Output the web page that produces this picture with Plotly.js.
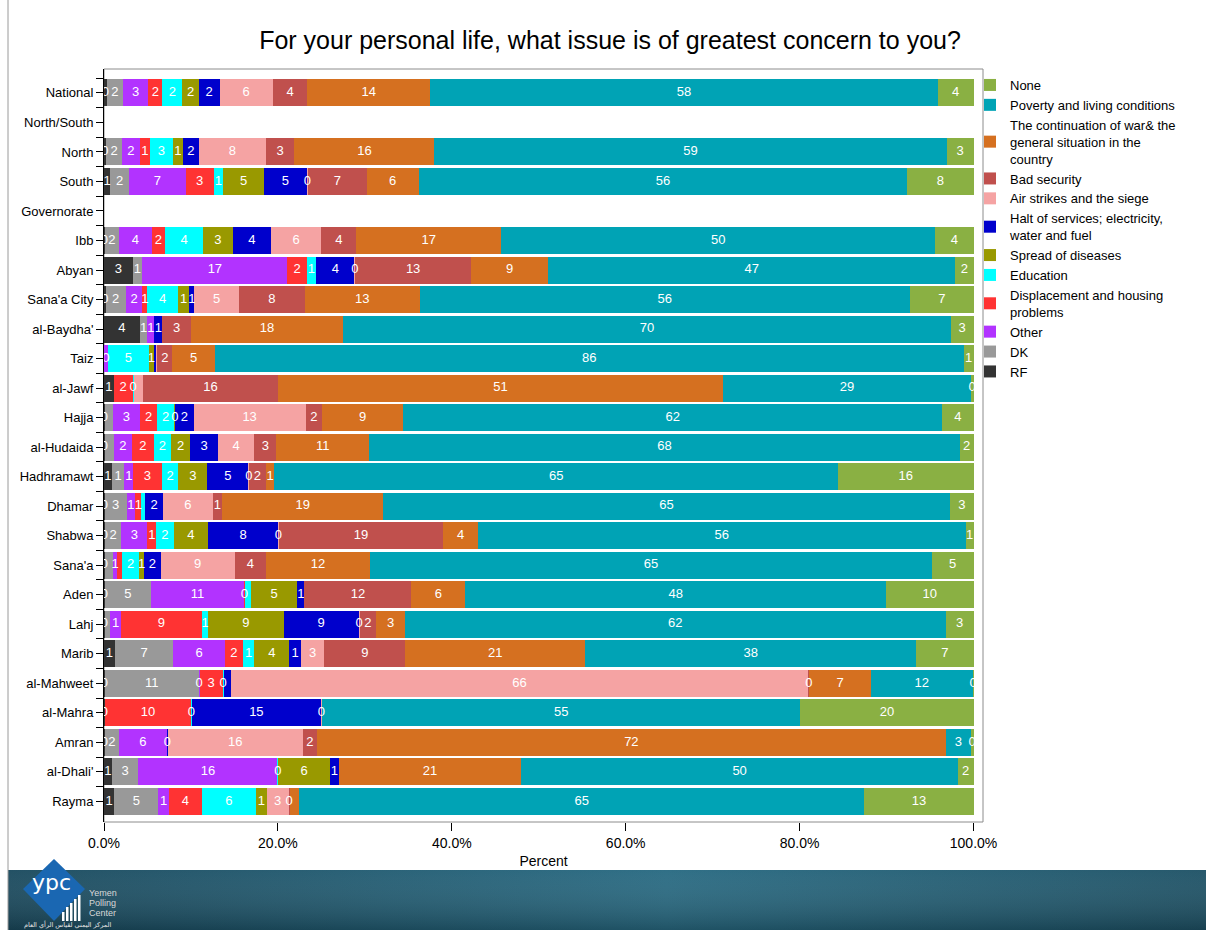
<!DOCTYPE html>
<html>
<head>
<meta charset="utf-8">
<script src="https://cdn.plot.ly/plotly-3.0.1.min.js"></script>
<style>
html,body{margin:0;padding:0;background:#fff;}
#chart{width:1206px;height:930px;}
</style>
</head>
<body>
<div id="chart"></div>
<script>
// ---------------- DATA ----------------
const CATEGORIES = ["National","North/South","North","South","Governorate","Ibb","Abyan","Sana'a City","al-Baydha'","Taiz","al-Jawf","Hajja","al-Hudaida","Hadhramawt","Dhamar","Shabwa","Sana'a","Aden","Lahj","Marib","al-Mahweet","al-Mahra","Amran","al-Dhali'","Rayma"];

const RF           = [0.3, null, 0.2, 0.7, null, 0.1, 3.3, 0.2, 4.1, null, 1.1, 0.1, 0.1, 0.9, 0.1, 0.1, 0.1, 0.1, 0.1, 1.25, 0.1, 0.1, 0.1, 0.9, 1.2];
const DK           = [1.9, null, 1.9, 2.2, null, 1.6, 1.1, 2.3, 0.9, null, null, 0.9, 1.0, 1.45, 2.5, 1.9, 0.9, 5.3, 0.6, 6.7, 10.8, null, 1.6, 3.05, 5.05];
const OTHER        = [2.9, null, 2.0, 6.5, null, 3.8, 16.7, 1.9, 0.8, 0.45, null, 3.15, 2.15, 1.0, 1.0, 3.0, 0.55, 10.7, 1.25, 6.0, 0.1, null, 5.55, 16.0, 1.2];
const DISPLACEMENT = [1.6, null, 1.2, 3.2, null, 1.5, 2.2, 0.6, null, null, 2.2, 1.95, 2.45, 3.3, 0.7, 1.0, 0.5, 0.1, 9.3, 2.0, 2.65, 9.9, null, null, 3.8];
const EDUCATION    = [2.3, null, 2.6, 1.1, null, 4.4, 1.1, 3.5, null, 4.7, 0.1, 2.0, 2.0, 1.9, 0.4, 2.0, 2.0, 0.7, 0.75, 1.35, 0.1, 0.1, null, 0.1, 6.25];
const DISEASES     = [1.9, null, 1.2, 4.7, null, 3.4, null, 1.3, null, 0.6, null, 0.1, 2.2, 3.35, null, 4.0, 0.55, 5.35, 8.65, 4.0, null, null, null, 5.95, 1.2];
const HALT         = [2.4, null, 1.8, 4.9, null, 4.4, 4.4, 0.6, 0.9, 0.2, null, 2.1, 3.2, 4.7, 2.1, 8.0, 1.9, 0.8, 8.65, 1.35, 0.8, 14.85, 0.1, 1.0, null];
const AIRSTRIKES   = [6.1, null, 7.7, 0.2, null, 5.8, 0.1, 5.1, null, 0.2, 1.1, 12.9, 4.2, 0.1, 5.7, 0.1, 8.55, null, 0.1, 2.7, 66.45, 0.1, 15.5, null, 2.55];
const SECURITY     = [4.0, null, 3.3, 6.7, null, 4.0, 13.3, 7.6, 3.3, 1.7, 15.5, 1.9, 2.5, 1.9, 1.1, 18.9, 3.55, 12.3, 1.9, 9.3, 0.1, null, 1.65, null, 0.1];
const WAR          = [14.1, null, 16.1, 6.0, null, 16.7, 8.9, 13.2, 17.5, 4.9, 51.2, 9.3, 10.7, 1.0, 18.5, 4.0, 12.0, 6.2, 3.3, 20.7, 7.1, null, 72.3, 21.0, 1.1];
const POVERTY      = [58.4, null, 58.9, 56.2, null, 49.9, 46.8, 56.4, 69.9, 86.1, 28.5, 62.0, 67.9, 64.8, 65.2, 56.1, 64.6, 48.4, 62.2, 38.05, 11.7, 55.05, 2.9, 50.2, 65.0];
const NONE         = [4.1, null, 3.1, 7.6, null, 4.4, 2.1, 7.3, 2.6, 1.15, 0.3, 3.6, 1.6, 15.6, 2.7, 0.9, 4.8, 10.05, 3.2, 6.6, 0.1, 19.9, 0.3, 1.8, 12.55];

const SERIES_NAMES = ["RF","DK","Other","Displacement and housing<br>problems","Education","Spread of diseases","Halt of services; electricity,<br>water and fuel","Air strikes and the siege","Bad security","The continuation of war&amp; the<br>general situation in the<br>country","Poverty and living conditions","None"];
const SERIES_VALUES = [RF, DK, OTHER, DISPLACEMENT, EDUCATION, DISEASES, HALT, AIRSTRIKES, SECURITY, WAR, POVERTY, NONE];
const SERIES_COLORS = ["#333333","#999999","#B233FF","#FF3333","#00FFFF","#999900","#0000CC","#F5A3A3","#C0504D","#D57020","#00A3B5","#8AB043"];

const X_TICKS = [0, 20, 40, 60, 80, 100];

// ---------------- LAYOUT GEOMETRY ----------------
const FIG_W = 1206, FIG_H = 930;
const M = {l: 104, r: 223, t: 69, b: 108, autoexpand: false};
const PW = FIG_W - M.l - M.r, PH = FIG_H - M.t - M.b;
const X_MAX = 101.09;
const PX_PER_PCT = PW / X_MAX;
const FONT = "Liberation Sans, Arial, sans-serif";
const px2x = px => (px - M.l) / PW;
const py2y = py => (M.t + PH - py) / PH;

// value labels: centred in each segment, a label colliding with the previous shown one is skipped
const LABEL_CHAR_W = 7.2;
const labX = [], labY = [], labT = [];
CATEGORIES.forEach((c, i) => {
  let cum = 0, lastRight = -1e9;
  SERIES_VALUES.forEach(vals => {
    const v = vals[i];
    if (v == null) return;
    const txt = String(Math.round(v));
    const centerPct = cum + v / 2;
    const center = centerPct * PX_PER_PCT;
    const half = txt.length * LABEL_CHAR_W / 2;
    if (center - half >= lastRight - 0.01) {
      labX.push(centerPct); labY.push(c); labT.push(txt);
      lastRight = center + half;
    }
    cum += v;
  });
});

const traces = SERIES_VALUES.map((vals, s) => ({
  type: "bar",
  orientation: "h",
  name: SERIES_NAMES[s],
  y: CATEGORIES,
  x: vals,
  marker: {color: SERIES_COLORS[s], line: {width: 0}},
  hoverinfo: "skip"
}));

traces.push({
  type: "scatter", mode: "text",
  x: labX, y: labY, text: labT,
  textposition: "middle center",
  textfont: {family: FONT, size: 13, color: "#ffffff"},
  showlegend: false, hoverinfo: "skip", cliponaxis: false
});

// helper trace for boundary tick marks on the category axis
traces.push({
  type: "scatter", mode: "markers", yaxis: "y2",
  y: CATEGORIES, x: CATEGORIES.map(() => null),
  showlegend: false, hoverinfo: "skip"
});

// ---------------- DECORATION ----------------
const bannerSvg = "<svg xmlns='http://www.w3.org/2000/svg' width='1198' height='60' viewBox='0 0 1198 60' preserveAspectRatio='none'>" +
  "<defs><linearGradient id='g' x1='0' x2='1' y1='0' y2='0'>" +
  "<stop offset='0' stop-color='#1a4a5e'/><stop offset='0.55' stop-color='#286a82'/><stop offset='1' stop-color='#1e5266'/></linearGradient>" +
  "<linearGradient id='v' x1='0' x2='0' y1='0' y2='1'><stop offset='0' stop-color='#ffffff' stop-opacity='0.04'/><stop offset='1' stop-color='#000000' stop-opacity='0.22'/></linearGradient></defs>" +
  "<rect width='1198' height='60' fill='url(#g)'/><rect width='1198' height='60' fill='url(#v)'/></svg>";

const diamond = [[54, 859], [85, 889], [54, 921], [23, 889]];
const diamondPath = "M" + diamond.map(p => px2x(p[0]) + "," + py2y(p[1])).join(" L") + " Z";

const logoBars = [[62, 912], [66, 907], [70, 903], [74, 899], [78, 895]];
const shapes = [
  {type: "rect", xref: "paper", yref: "paper", x0: 0, x1: 1, y0: 0, y1: 1,
   line: {color: "#8c8c8c", width: 1}, fillcolor: "rgba(0,0,0,0)", layer: "below"},
  {type: "line", xref: "paper", yref: "paper", x0: px2x(8), x1: px2x(8), y0: py2y(0), y1: py2y(930),
   line: {color: "#9a9a9a", width: 1}},
  {type: "path", xref: "paper", yref: "paper", path: diamondPath, fillcolor: "#1a67b2", line: {width: 0}}
];
logoBars.forEach(b => shapes.push({
  type: "rect", xref: "paper", yref: "paper",
  x0: px2x(b[0]), x1: px2x(b[0] + 2.5), y0: py2y(921), y1: py2y(b[1]),
  fillcolor: "#ffffff", line: {width: 0}
}));

const annotations = [
  {xref: "paper", yref: "paper", x: px2x(51), y: py2y(882), text: "ypc", showarrow: false,
   font: {family: "DejaVu Sans, sans-serif", size: 22, color: "#ffffff"}, xanchor: "center", yanchor: "middle"},
  {xref: "paper", yref: "paper", x: px2x(87), y: py2y(893), text: "Yemen", showarrow: false,
   xanchor: "left", yanchor: "middle", font: {family: FONT, size: 9, color: "#d8d8d8"}},
  {xref: "paper", yref: "paper", x: px2x(87), y: py2y(903), text: "Polling", showarrow: false,
   xanchor: "left", yanchor: "middle", font: {family: FONT, size: 9, color: "#d8d8d8"}},
  {xref: "paper", yref: "paper", x: px2x(87), y: py2y(913), text: "Center", showarrow: false,
   xanchor: "left", yanchor: "middle", font: {family: FONT, size: 9, color: "#d8d8d8"}},
  {xref: "paper", yref: "paper", x: px2x(22), y: py2y(925), text: "المركز اليمني لقياس الرأي العام", showarrow: false,
   xanchor: "left", yanchor: "middle", font: {family: "DejaVu Sans, sans-serif", size: 6.5, color: "#e6e6e6"}}
];

const layout = {
  width: FIG_W, height: FIG_H,
  margin: M,
  paper_bgcolor: "#ffffff", plot_bgcolor: "#ffffff",
  font: {family: FONT, size: 13, color: "#000"},
  barmode: "stack",
  bargap: 0.085,
  hovermode: false,
  title: {
    text: "For your personal life, what issue is of greatest concern to you?",
    font: {family: FONT, size: 25, color: "#000"},
    xref: "container", yref: "container", x: 610 / FIG_W, y: 1 - 40 / FIG_H,
    xanchor: "center", yanchor: "middle"
  },
  xaxis: {
    range: [0, X_MAX], autorange: false,
    tickvals: X_TICKS, ticktext: X_TICKS.map(v => v.toFixed(1) + "%"),
    ticks: "outside", ticklen: 8, tickcolor: "#000", tickwidth: 1,
    tickfont: {family: FONT, size: 14, color: "#000"},
    showline: false, showgrid: false, zeroline: false,
    title: {text: "Percent", font: {family: FONT, size: 14, color: "#000"}, standoff: 6},
    fixedrange: true
  },
  yaxis: {
    type: "category", categoryorder: "array", categoryarray: CATEGORIES,
    range: [24.7, -0.81], autorange: false,
    ticks: "outside", ticklen: 7, tickcolor: "#000", tickwidth: 1,
    tickfont: {family: FONT, size: 13, color: "#000"},
    showline: true, linecolor: "#000", linewidth: 1,
    showgrid: false, zeroline: false, fixedrange: true
  },
  yaxis2: {
    overlaying: "y", side: "left",
    type: "category", categoryorder: "array", categoryarray: CATEGORIES,
    range: [24.7, -0.81], autorange: false,
    tickson: "boundaries", ticks: "outside", ticklen: 7, tickcolor: "#000", tickwidth: 1,
    showticklabels: false, showline: false, showgrid: false, zeroline: false, fixedrange: true
  },
  legend: {
    traceorder: "reversed",
    xref: "container", yref: "container",
    x: 970 / FIG_W, y: 1 - 70 / FIG_H, xanchor: "left", yanchor: "top",
    font: {family: FONT, size: 13, color: "#000"},
    bgcolor: "rgba(0,0,0,0)", borderwidth: 0,
    valign: "middle", tracegroupgap: 0
  },
  images: [{
    source: "data:image/svg+xml;charset=utf-8," + encodeURIComponent(bannerSvg),
    xref: "paper", yref: "paper",
    x: px2x(8), y: py2y(870), sizex: 1198 / PW, sizey: 60 / PH,
    xanchor: "left", yanchor: "top", sizing: "stretch", layer: "below"
  }],
  shapes: shapes,
  annotations: annotations
};

Plotly.newPlot("chart", traces, layout, {displayModeBar: false, staticPlot: true});
</script>
</body>
</html>
